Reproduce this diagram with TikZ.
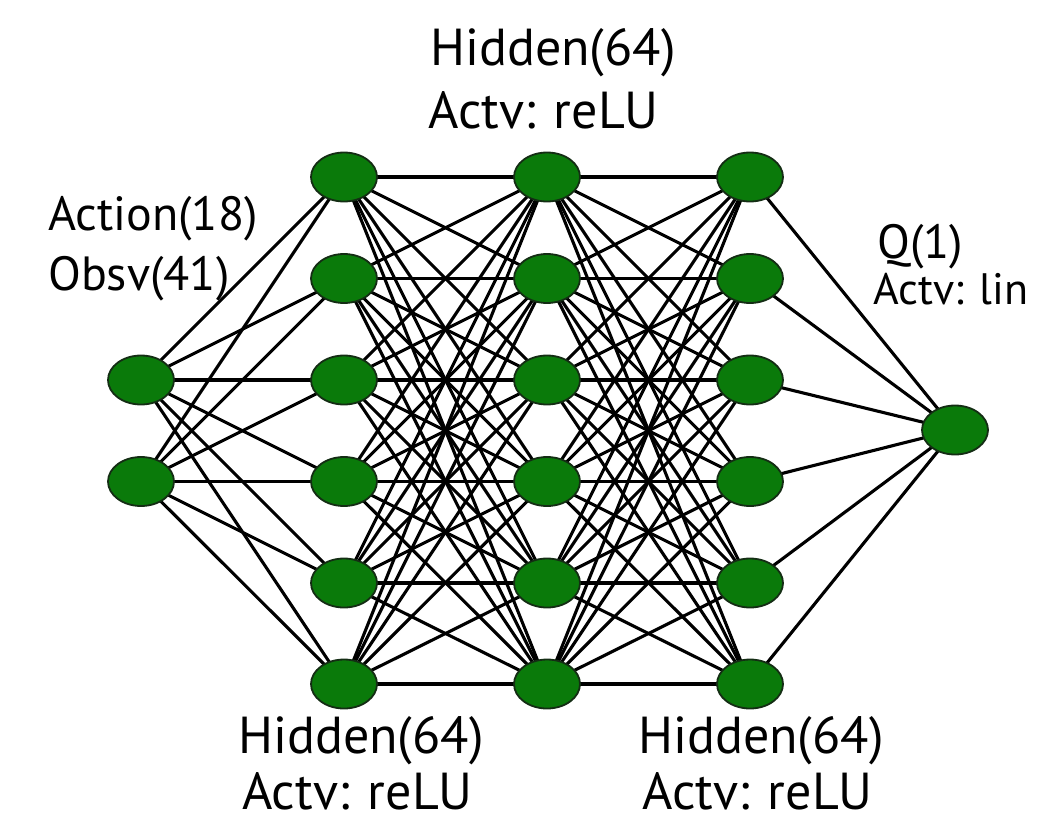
\documentclass[tikz,border=0pt]{standalone}
\usepackage{fontspec}
\setmainfont{PT Sans}
\usetikzlibrary{shapes.geometric,backgrounds}
\definecolor{nodegreen}{RGB}{10,122,10}
\definecolor{nodeedge}{RGB}{20,45,20}
\begin{document}
\begin{tikzpicture}[x=1pt,y=-1pt,
  neuron/.style={ellipse, draw=nodeedge, line width=1.8pt, fill=nodegreen,
    minimum width=66pt, minimum height=49pt, inner sep=0pt},
  conn/.style={line width=3.1pt, draw=black},
  lbl/.style={anchor=base west, inner sep=0pt, font=\fontsize{52}{60}\selectfont},
  slbl/.style={anchor=base west, inner sep=0pt, font=\fontsize{48}{56}\selectfont},
  xlbl/.style={anchor=base west, inner sep=0pt, font=\fontsize{44}{52}\selectfont}]
\useasboundingbox (0,0) rectangle (1038,815);
% input layer
\node[neuron] (i1) at (141,380) {};
\node[neuron] (i2) at (141,481.5) {};
% hidden layers
\foreach \l/\x in {a/344,b/547,c/750}
  \foreach \j/\y in {1/177,2/278.5,3/380,4/481.5,5/583,6/684}
    \node[neuron] (\l\j) at (\x,\y) {};
% output
\node[neuron] (o) at (955,430) {};
% connections
\begin{scope}[on background layer]
  \foreach \i in {1,2}
    \foreach \j in {1,...,6}
      \draw[conn] (i\i.center) -- (a\j.center);
  \foreach \i in {1,...,6}
    \foreach \j in {1,...,6}
      {\draw[conn] (a\i.center) -- (b\j.center);
       \draw[conn] (b\i.center) -- (c\j.center);}
  \foreach \i in {1,...,6}
    \draw[conn] (c\i.center) -- (o.center);
\end{scope}
% labels
\node[lbl] (tA) at (430,65) {Hidden(64)};
\node[lbl] (tB) at (428,128) {Actv: reLU};
\node[slbl] (lA) at (48,230) {Action(18)};
\node[slbl] (lB) at (48,290) {Obsv(41)};
\node[slbl] (qA) at (877,258) {Q(1)};
\node[xlbl] (qB) at (873,304) {Actv: lin};
\node[lbl] (bA) at (238,753) {Hidden(64)};
\node[lbl] (bB) at (242,809) {Actv: reLU};
\node[lbl] (cA) at (638,753) {Hidden(64)};
\node[lbl] (cB) at (642,809) {Actv: reLU};
\end{tikzpicture}
\end{document}
